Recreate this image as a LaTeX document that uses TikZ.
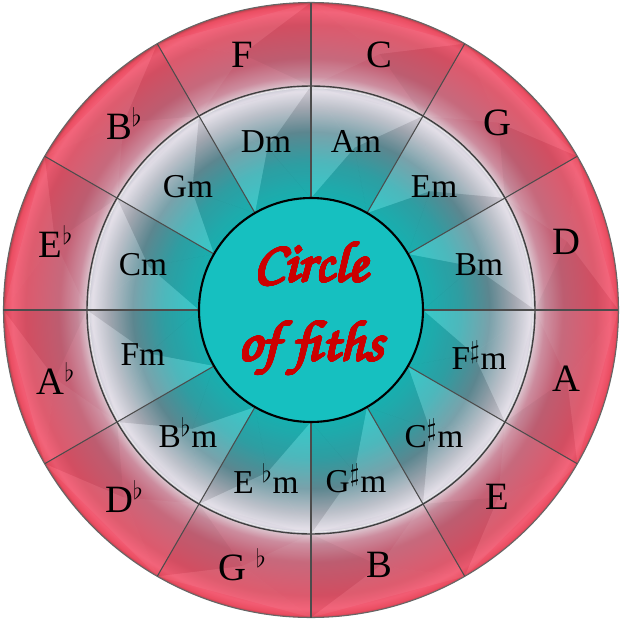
\documentclass[tikz,border=0pt]{standalone}
\usepackage{amssymb}
\usepackage{fontspec}
\setmainfont{Liberation Serif}
\usepackage{contour}
\usetikzlibrary{positioning, calc}
\definecolor{hubteal}{RGB}{22,192,192}
\definecolor{titlered}{RGB}{204,0,0}
\pgfdeclareradialshading{wheelshade}{\pgfpoint{0bp}{0bp}}{%
  rgb(0bp)=(0.09,0.75,0.75);
  rgb(9.1bp)=(0.1,0.76,0.76);
  rgb(12bp)=(0.2,0.68,0.7);
  rgb(14.5bp)=(0.4,0.58,0.62);
  rgb(16.5bp)=(0.7,0.72,0.76);
  rgb(17.8bp)=(0.88,0.86,0.9);
  rgb(18.1bp)=(0.8,0.8,0.84);
  rgb(18.25bp)=(0.86,0.76,0.8);
  rgb(19bp)=(0.8,0.55,0.62);
  rgb(20.5bp)=(0.77,0.38,0.46);
  rgb(23.2bp)=(0.86,0.32,0.4);
  rgb(24.3bp)=(0.95,0.36,0.45);
  rgb(24.8bp)=(0.92,0.3,0.38);
  rgb(25bp)=(0.7,0.26,0.3);
  rgb(50bp)=(0.7,0.26,0.3)}
\contourlength{0.55pt}
\contournumber{32}

\begin{document}
\begin{tikzpicture}[
    major/.style={font=\fontsize{22}{22}\selectfont, text=black},
    minor/.style={font=\fontsize{19}{19}\selectfont, text=black},
    spoke/.style={draw=black!70, line width=0.6pt},
    facetlight/.style={fill=white, fill opacity=0.13},
    facetdark/.style={fill=black, fill opacity=0.09}
  ]
  \useasboundingbox (-6.22,-6.26) rectangle (6.24,6.20);

  % rings
  \shade[shading=wheelshade] (0,0) circle (6.15);

  % bevel facets, minor ring
  \foreach \a in {0,30,...,330} {
    \coordinate (mid) at ({\a+15}:3.36);
    \fill[facetdark] (\a:2.24) -- ({\a+30}:2.24) -- (mid) -- cycle;
    \fill[facetlight] (\a:4.48) -- ({\a+30}:4.48) -- (mid) -- cycle;
    \fill[facetdark] (\a:2.24) -- (\a:4.48) -- (mid) -- cycle;
    \fill[facetlight] ({\a+30}:2.24) -- ({\a+30}:4.48) -- (mid) -- cycle;
  }
  % bevel facets, major ring (fainter)
  \foreach \a in {0,30,...,330} {
    \coordinate (mid) at ({\a+15}:5.3);
    \fill[facetlight, fill opacity=0.06] (\a:6.15) -- ({\a+30}:6.15) -- (mid) -- cycle;
    \fill[facetdark, fill opacity=0.04] (\a:4.48) -- (\a:6.15) -- (mid) -- cycle;
    \fill[facetlight, fill opacity=0.05] ({\a+30}:4.48) -- ({\a+30}:6.15) -- (mid) -- cycle;
  }

  \draw[draw=black!60, line width=0.6pt] (0,0) circle (6.15);
  \draw[draw=black!75, line width=0.8pt] (0,0) circle (4.48);
  \draw[draw=white!85!gray, line width=0.4pt] (0,0) circle (4.44);
  \foreach \a in {0,30,...,330}
    \draw[spoke] (\a:2.24) -- (\a:6.15);

  % hub
  \node[circle, draw=black, line width=1.2pt, fill=hubteal,
        minimum size=4.48cm, inner sep=0pt] (hub) at (0,0) {};
  \node[align=center, text=titlered,
        font=\fontencoding{OT1}\fontfamily{pzc}\fontseries{mb}\fontshape{it}\fontsize{32.5}{45}\selectfont]
    (title) at (0,0.0) {\contour{titlered}{Circle}\\\contour{titlered}{of fiths}};

  % major keys
  \foreach \lbl [count=\i from 0] in {C, G, D, A, E, B, G $^\flat$, D$^\flat$,
      A$^\flat$, E$^\flat$, B$^\flat$, F}
    \node[major] (maj-\i) at ({75-30*\i}:5.28) {\lbl};

  % minor keys
  \foreach \lbl [count=\i from 0] in {Am, Em, Bm, F$^\sharp$m, C$^\sharp$m,
      G$^\sharp$m, E $^\flat$m, B$^\flat$m, Fm, Cm, Gm, Dm}
    \node[minor] (min-\i) at ({75-30*\i}:3.48) {\lbl};
\end{tikzpicture}
\end{document}
